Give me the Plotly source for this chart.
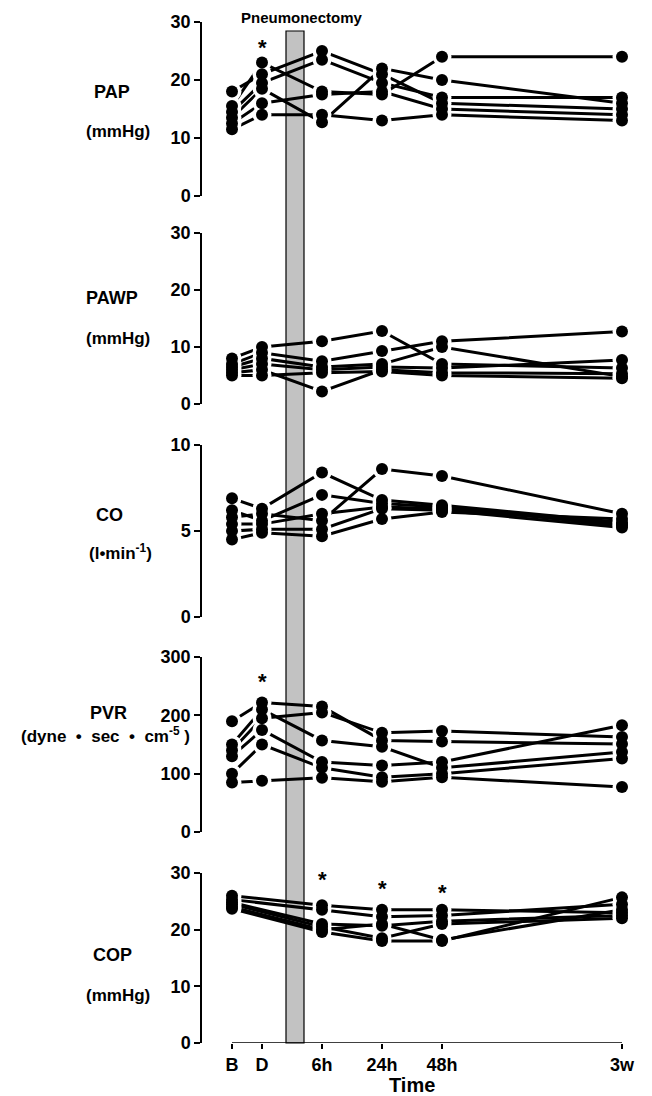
import plotly.graph_objects as go

# ---------------- data ----------------
time_labels = ["B", "D", "6h", "24h", "48h", "3w"]
time_pos = [0, 1, 3, 5, 7, 13]

pap = [
    [15.5, 23, 18, 17.5, 24, 24],
    [18, 21, 25, 21, 16, 15],
    [14.5, 19.5, 23.5, 19.5, 17, 17],
    [13.5, 18.5, 12.7, 22, 20, 16],
    [12.5, 16, 17.5, 18, 15, 14],
    [11.5, 14, 14, 13, 14, 13],
]
pawp = [
    [8, 10, 11, 12.8, 7, 6.3],
    [7, 9, 7.5, 9.3, 11, 12.7],
    [6.5, 8, 6.5, 7, 10, 4.8],
    [6, 7, 6, 6.5, 6.3, 7.7],
    [5.5, 6, 2.2, 6, 5.5, 5.3],
    [5, 5, 5.5, 5.7, 5, 4.5],
]
co = [
    [6.9, 6.3, 8.4, 6.8, 6.5, 5.5],
    [6.2, 5.6, 7.1, 6.6, 6.4, 5.3],
    [5.8, 6.0, 5.6, 8.6, 8.2, 6.0],
    [5.4, 5.4, 6.0, 6.4, 6.3, 5.4],
    [5.0, 5.1, 5.1, 6.3, 6.2, 5.2],
    [4.5, 4.9, 4.7, 5.7, 6.1, 5.7],
]
pvr = [
    [140, 195, 205, 170, 173, 163],
    [190, 222, 215, 157, 155, 151],
    [130, 175, 120, 114, 120, 183],
    [150, 210, 157, 146, 110, 137],
    [100, 150, 110, 94, 100, 126],
    [85, 88, 93, 86, 94, 77],
]
cop = [
    [26, None, 24.3, 23.5, 23.5, 23],
    [25.3, None, 23.5, 22.3, 22.5, 24.5],
    [24.8, None, 21, 20.7, 21.5, 22.5],
    [24.5, None, 20.5, 18.5, 21, 22],
    [24, None, 20, 21, 18.2, 23.5],
    [23.7, None, 19.6, 18, 18, 25.7],
]

panel_data = [pap, pawp, co, pvr, cop]
panel_top = [30, 30, 10, 300, 30]
panel_ticks = [[0, 10, 20, 30], [0, 10, 20, 30], [0, 5, 10], [0, 100, 200, 300], [0, 10, 20, 30]]
panel_title1 = ["PAP", "PAWP", "CO", "PVR", "COP"]
panel_title2 = ["(mmHg)", "(mmHg)", "(l•min<sup>-1</sup>)",
                "(dyne\u00a0\u00a0•\u00a0\u00a0sec\u00a0\u00a0•\u00a0\u00a0cm<sup>-5</sup>\u00a0)", "(mmHg)"]

# significance markers: (panel index, time index, value)
stars = [(0, 1, 26.5), (3, 1, 266), (4, 2, 29.8), (4, 3, 28.2), (4, 4, 27.5)]

# ---------------- layout geometry ----------------
# page coordinates; the html body adds an 8px margin, so the figure is made 8px smaller
OFF = 8
W, H = 652 - OFF, 1096 - OFF
AXIS_X, PLOT_R = 202, 640        # page x of y-axis line and right plot edge
PLOT_T, PLOT_B = 18, 1043        # page y of plot-area top and bottom
L, R = AXIS_X - OFF, (W + OFF) - PLOT_R
T, B = PLOT_T - OFF, (H + OFF) - PLOT_B
PW, PH = PLOT_R - AXIS_X, PLOT_B - PLOT_T

# page rows of each panel: (y of zero, y of top tick)
panel_px = [(196, 22), (404, 233), (617, 445), (832, 657), (1043, 873)]


def py(p):
    return (PLOT_B - p) / PH


def px(p):
    return (p - AXIS_X) / PW


FONT = "Liberation Sans, Arial, Helvetica, sans-serif"

fig = go.Figure()
layout = dict(
    width=W, height=H,
    margin=dict(l=L, r=R, t=T, b=B, autoexpand=False),
    paper_bgcolor="white", plot_bgcolor="white",
    showlegend=False,
    font=dict(family=FONT, color="black"),
)

for i, data in enumerate(panel_data):
    n = i + 1
    xa = "x" if n == 1 else f"x{n}"
    ya = "y" if n == 1 else f"y{n}"
    for s in data:
        fig.add_trace(go.Scatter(
            x=time_pos, y=s, mode="lines", connectgaps=True,
            line=dict(color="black", width=3), xaxis=xa, yaxis=ya,
            hoverinfo="skip", cliponaxis=False))
    xs, ys = [], []
    for s in data:
        for xv, yv in zip(time_pos, s):
            if yv is not None:
                xs.append(xv)
                ys.append(yv)
    fig.add_trace(go.Scatter(
        x=xs, y=ys, mode="markers", xaxis=xa, yaxis=ya,
        marker=dict(color="white", size=19, line=dict(width=0)),
        hoverinfo="skip", cliponaxis=False))
    fig.add_trace(go.Scatter(
        x=xs, y=ys, mode="markers", xaxis=xa, yaxis=ya,
        marker=dict(color="black", size=12, line=dict(width=0)),
        cliponaxis=False))

    y0p, ytp = panel_px[i]
    layout[f"xaxis{'' if n == 1 else n}"] = dict(
        domain=[0, 1], range=[-1, 13.6], anchor=ya,
        showgrid=False, zeroline=False, showline=False,
        tickvals=time_pos, ticktext=time_labels,
        ticks="outside" if n == 5 else "", ticklen=5, tickwidth=1.5, tickcolor="black",
        showticklabels=(n == 5), automargin=False,
        tickfont=dict(family=FONT, size=18, color="black", weight="bold"),
        fixedrange=True,
    )
    layout[f"yaxis{'' if n == 1 else n}"] = dict(
        domain=[py(y0p), py(ytp)], range=[0, panel_top[i]], anchor=xa,
        showgrid=False, zeroline=False, showline=True, linecolor="black", linewidth=1.5,
        ticks="outside", ticklen=6, tickwidth=1.5, tickcolor="black",
        tickvals=panel_ticks[i], automargin=False,
        tickfont=dict(family=FONT, size=18, color="black", weight="bold"),
        fixedrange=True,
    )

fig.update_layout(**layout)

# pneumonectomy bar
fig.add_shape(type="rect", xref="x5", yref="paper", x0=1.8, x1=2.4, y0=0, y1=py(31),
              fillcolor="#c2c2c2", line=dict(color="black", width=1.2), layer="below")
# bottom x-axis line (B to 3w)
fig.add_shape(type="line", xref="x5", yref="y5", x0=time_pos[0], x1=time_pos[-1], y0=0, y1=0,
              line=dict(color="black", width=1.5), layer="above")

ann = []
ann.append(dict(text="Pneumonectomy", xref="paper", yref="paper", x=px(302), y=py(17),
                showarrow=False, xanchor="center", yanchor="middle",
                font=dict(family=FONT, size=15, weight="bold")))
ann.append(dict(text="Time", xref="paper", yref="paper", x=px(412), y=py(1085),
                showarrow=False, xanchor="center", yanchor="middle",
                font=dict(family=FONT, size=20, weight="bold")))

title_pos = [((112, 92), (118, 132)), ((112, 298), (118, 338)), ((109, 515), (120, 552)),
             ((108, 713), (105, 735)), ((112, 955), (118, 995))]
for i in range(5):
    (x1p, y1p), (x2p, y2p) = title_pos[i]
    ann.append(dict(text=panel_title1[i], xref="paper", yref="paper", x=px(x1p), y=py(y1p),
                    showarrow=False, xanchor="center", yanchor="middle",
                    font=dict(family=FONT, size=18, weight="bold")))
    ann.append(dict(text=panel_title2[i], xref="paper", yref="paper", x=px(x2p), y=py(y2p),
                    showarrow=False, xanchor="center", yanchor="middle",
                    font=dict(family=FONT, size=17, weight="bold")))

for (pi, ti, v) in stars:
    n = pi + 1
    ann.append(dict(text="*", xref=f"x{n}" if n > 1 else "x", yref=f"y{n}" if n > 1 else "y",
                    x=time_pos[ti], y=v, showarrow=False, xanchor="center", yanchor="middle",
                    yshift=-5, font=dict(family=FONT, size=22, weight="bold")))

fig.update_layout(annotations=ann)
fig.write_html("out.html")
